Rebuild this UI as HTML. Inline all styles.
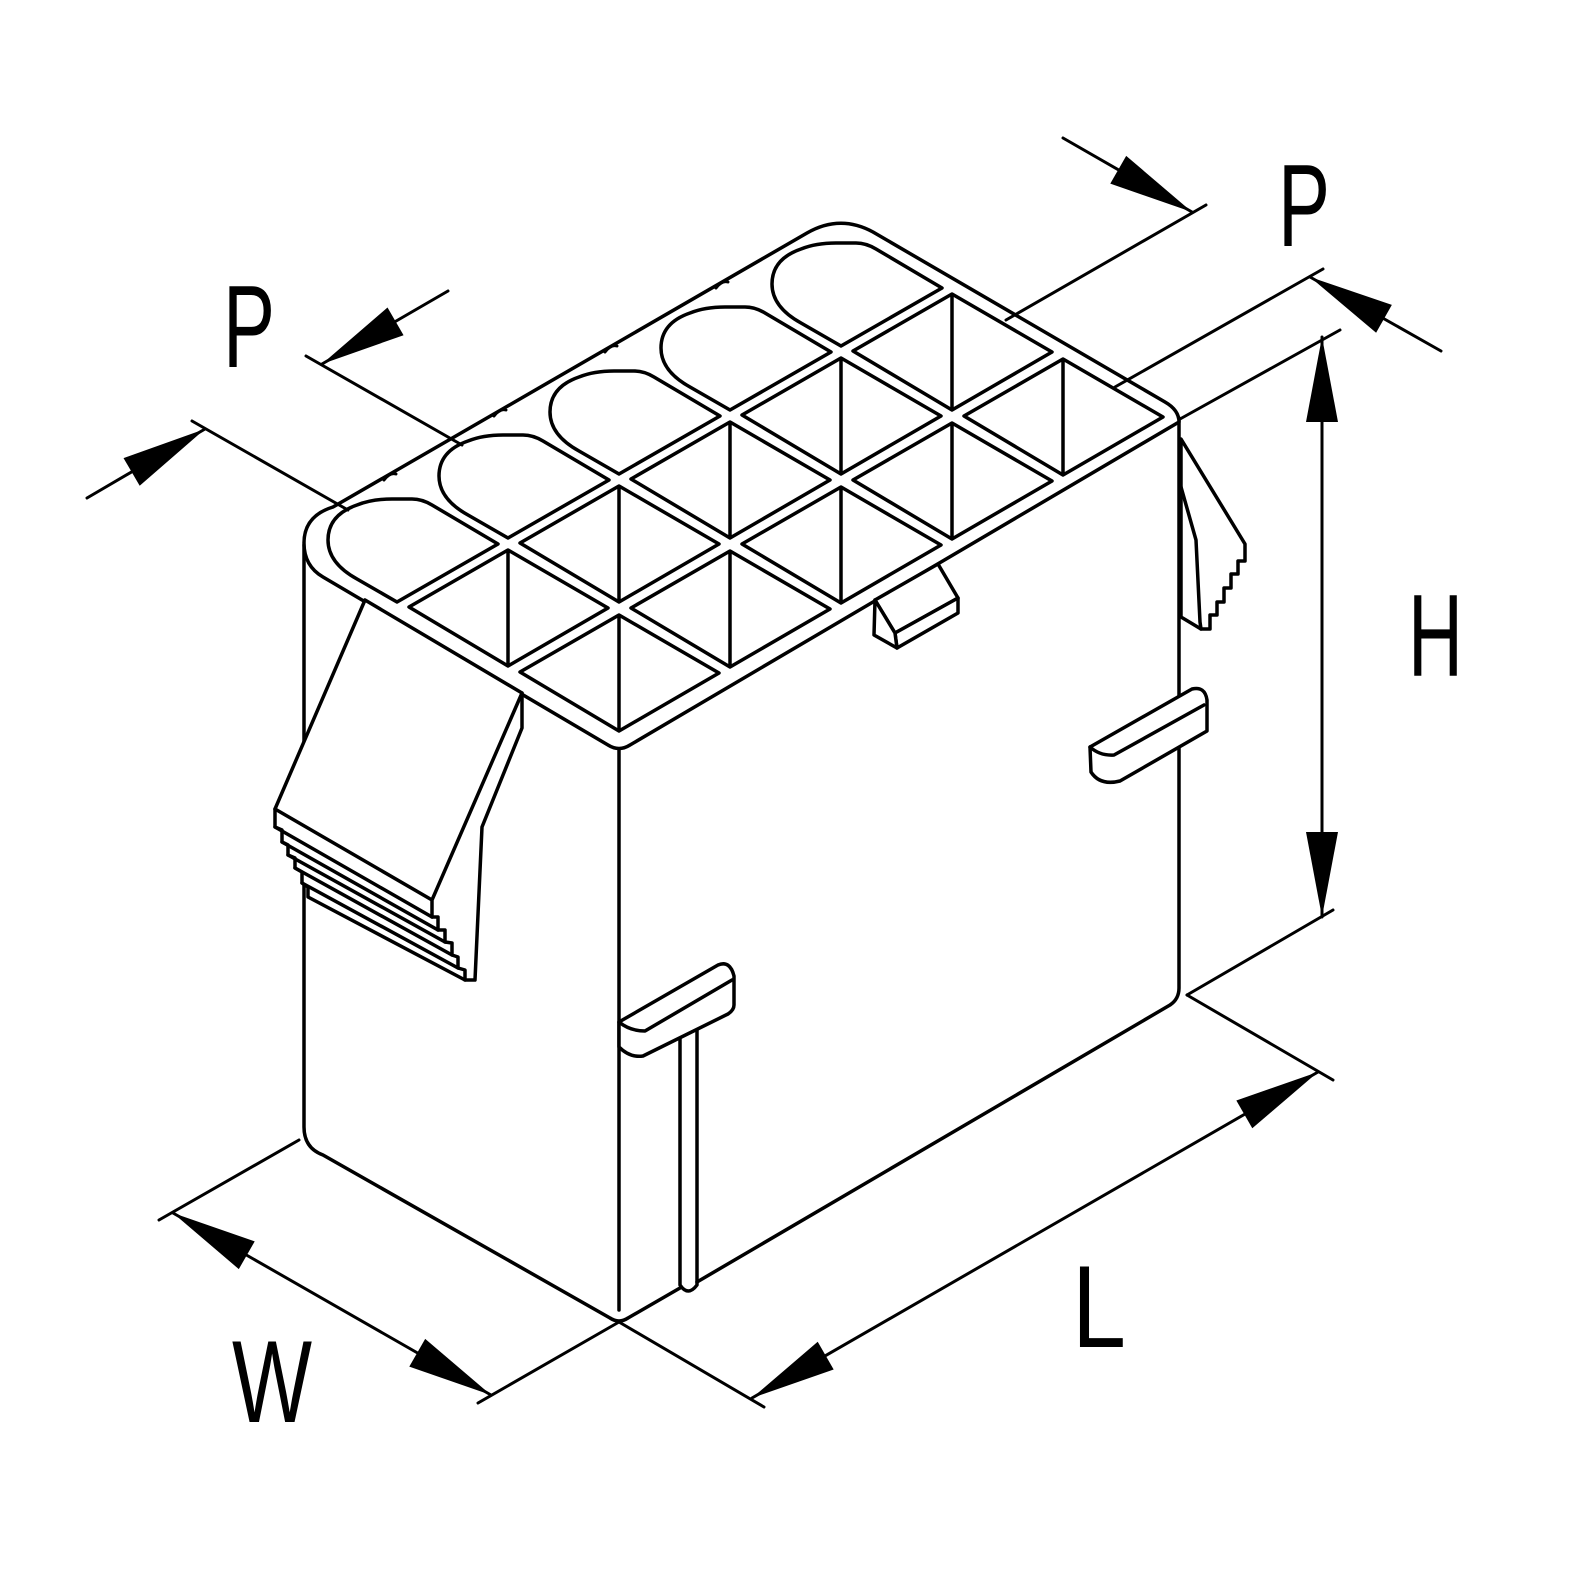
<!DOCTYPE html>
<html><head><meta charset="utf-8"><style>
html,body{margin:0;padding:0;background:#fff;}
svg{display:block;}
text{font-family:"Liberation Sans",sans-serif;}
</style></head><body>
<svg width="1593" height="1577" viewBox="0 0 1593 1577" xmlns="http://www.w3.org/2000/svg">
<defs>
<g id="cell"><path d="M0,0 L100,58 L0,116 L-99,57 Z M0,0 V116" fill="#fff" stroke="#000" stroke-width="3.5" stroke-linejoin="round"/></g>
<g id="slot"><path d="M101,59 L0,117 L-40,94 Q-69,78 -69,55 Q-69,30 -40,20 Q-25,14 -5,14 L15,14 Q25,14 35,20 Z" fill="#fff" stroke="#000" stroke-width="3.5" stroke-linejoin="round"/></g>
<polygon id="ah" points="0,0 -85,-16 -85,16" fill="#000"/>
</defs>
<g fill="none" stroke="#000" stroke-width="3.5" stroke-linejoin="round" stroke-linecap="round">
<!-- body verticals and bottom -->
<path d="M304,545 V743 M304,873 V1127 Q304,1148 323,1155 L610,1318 Q619,1324 628,1318 L680,1288"/>
<path d="M619,750 V1310"/>
<path d="M680,1030 V1285 Q688,1297 697,1285 V1030"/>
<path d="M697,1282 L1170,1005 Q1179,999 1179,988 V418"/>
<!-- top frame -->
<path d="M323,577 Q304,566 304,543 Q304,516 333,507 L807,233 Q840,214 873,232 L1165,402 Q1179,410 1179,422 L630,745 Q619,752 608,745 Z" fill="#fff"/>
<!-- notches -->
<path d="M384,480 Q390,472 396,474 M494,416 Q500,408 506,410 M605,352 Q611,344 617,346 M716,288 Q722,280 728,282" stroke-width="3"/>
</g>
<!-- slots row1 -->
<use href="#slot" x="397" y="485"/><use href="#slot" x="508" y="421"/><use href="#slot" x="619" y="357"/><use href="#slot" x="730" y="293"/><use href="#slot" x="841" y="229"/>
<!-- cells row2 -->
<use href="#cell" x="508" y="550"/><use href="#cell" x="619" y="486"/><use href="#cell" x="730" y="422"/><use href="#cell" x="841" y="358"/><use href="#cell" x="952" y="294"/>
<!-- cells row3 -->
<use href="#cell" x="619" y="615"/><use href="#cell" x="730" y="551"/><use href="#cell" x="841" y="487"/><use href="#cell" x="952" y="423"/><use href="#cell" x="1063" y="359"/>

<g fill="#fff" stroke="#000" stroke-width="3.5" stroke-linejoin="round" stroke-linecap="round">
<!-- left latch -->
<path d="M522,693 L522,728 L482,827 L475,980 L465,980 L308,897 L308,887 L302,883 L302,872 L295,868 L295,858 L288,855 L288,845 L282,842 L282,830 L275,827 L275,809 L365,600 Z"/>
<path d="M275,809 L432,900 L522,693 M432,900 L432,917 L438,917 L438,930 L445,930 L445,942 L452,943 L452,955 L458,957 L458,968 L465,970 L465,980" fill="none"/>
<path d="M275,827 L432,917 M282,842 L438,930 M288,855 L445,942 M295,868 L452,955 M302,883 L458,968" fill="none"/>
<!-- right latch -->
<path d="M1181,439 L1245,544 L1245,561 L1238,561 L1238,574 L1231,574 L1231,588 L1224,588 L1224,602 L1217,602 L1217,615 L1210,615 L1210,629 L1201,629 L1181,617 Z"/>
<path d="M1181,487 L1196,540 L1200,622 L1201,629" fill="none"/>
<!-- top small latch -->
<path d="M875,600 L938,564 L958,598 L895,633 Z"/>
<path d="M895,633 L958,598 L958,613 L897,648 Z"/>
<path d="M875,600 L895,633 L897,648 L874,635 Z"/>
<!-- front ledge -->
<path d="M619,1022 L718,965 Q730,960 734,976 L734,1005 Q734,1010 728,1014 L643,1056 Q630,1058 619,1047 Z"/>
<path d="M619,1022 Q630,1031 645,1031 L732,980" fill="none"/>
<!-- right ledge -->
<path d="M1090,747 L1192,689 Q1205,686 1207,700 L1207,731 L1120,781 Q1100,786 1091,772 Z"/>
<path d="M1090,747 Q1100,756 1114,755 L1204,705" fill="none"/>
</g>

<!-- dimension lines -->
<g stroke="#000" stroke-width="3" fill="none" stroke-linecap="round">
<line x1="306" y1="356" x2="462" y2="445"/>
<line x1="192" y1="421" x2="348" y2="510"/>
<line x1="448" y1="291" x2="322" y2="364"/>
<line x1="87" y1="498" x2="205" y2="429"/>
<line x1="1206" y1="205" x2="1006" y2="320"/>
<line x1="1323" y1="269" x2="1115" y2="387"/>
<line x1="1063" y1="138" x2="1192" y2="212"/>
<line x1="1441" y1="351" x2="1310" y2="277"/>
<line x1="1340" y1="330" x2="1180" y2="419"/>
<line x1="1333" y1="910" x2="1187" y2="995"/>
<line x1="1322" y1="337" x2="1322" y2="917"/>
<line x1="1187" y1="995" x2="1333" y2="1080"/>
<line x1="619" y1="1322" x2="764" y2="1407"/>
<line x1="752" y1="1398" x2="1318" y2="1072"/>
<line x1="299" y1="1140" x2="159" y2="1220"/>
<line x1="619" y1="1322" x2="478" y2="1403"/>
<line x1="173" y1="1213" x2="491" y2="1395"/>
</g>
<use href="#ah" transform="translate(322,364) rotate(149.9)"/>
<use href="#ah" transform="translate(205,429) rotate(-30.3)"/>
<use href="#ah" transform="translate(1192,212) rotate(29.8)"/>
<use href="#ah" transform="translate(1310,277) rotate(209.5)"/>
<use href="#ah" transform="translate(1322,337) rotate(-90)"/>
<use href="#ah" transform="translate(1322,917) rotate(90)"/>
<use href="#ah" transform="translate(1318,1072) rotate(-29.9)"/>
<use href="#ah" transform="translate(752,1398) rotate(150.1)"/>
<use href="#ah" transform="translate(491,1395) rotate(29.8)"/>
<use href="#ah" transform="translate(173,1213) rotate(209.8)"/>

<!-- labels -->
<g fill="#000" font-size="117">
<text x="223" y="367" textLength="52" lengthAdjust="spacingAndGlyphs">P</text>
<text x="1278" y="246" textLength="52" lengthAdjust="spacingAndGlyphs">P</text>
<text x="1408" y="676" textLength="55" lengthAdjust="spacingAndGlyphs">H</text>
<text x="1072" y="1347" textLength="54" lengthAdjust="spacingAndGlyphs">L</text>
<text x="232" y="1422" textLength="80" lengthAdjust="spacingAndGlyphs">W</text>
</g>
</svg>
</body></html>
